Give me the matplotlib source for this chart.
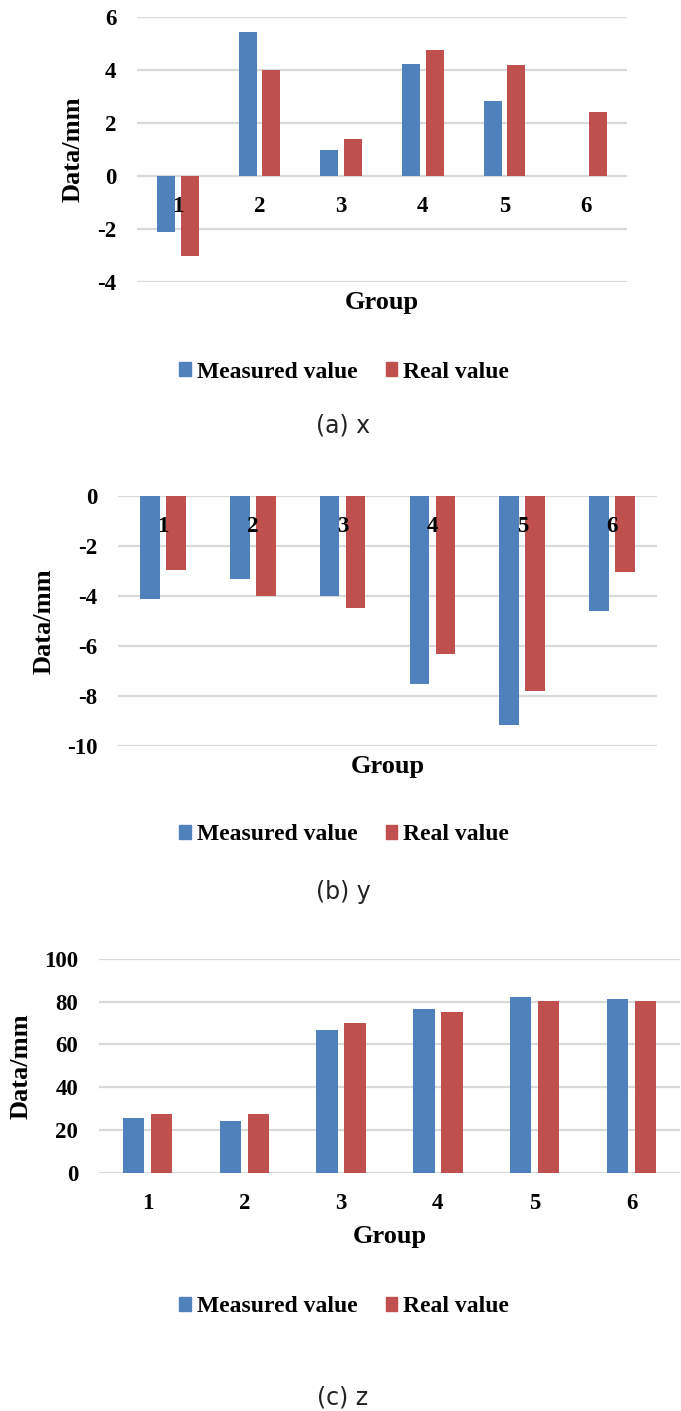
import numpy as np
import matplotlib
matplotlib.use('Agg')
import matplotlib.pyplot as plt
from matplotlib.patches import Patch

# data
groups = ['1', '2', '3', '4', '5', '6']
x_measured = [-2.13, 5.45, 0.99, 4.21, 2.84, 0.0]
x_real = [-3.0, 4.0, 1.38, 4.74, 4.2, 2.43]
y_measured = [-4.13, -3.32, -4.0, -7.55, -9.17, -4.61]
y_real = [-2.99, -4.0, -4.49, -6.33, -7.8, -3.04]
z_measured = [25.4, 24.1, 67.0, 76.5, 82.4, 81.3]
z_real = [27.7, 27.6, 70.1, 75.4, 80.2, 80.2]
series_names = ['Measured value', 'Real value']
captions = ['(a) x', '(b) y', '(c) z']

BLUE = '#4F81BD'
RED = '#C0504D'
GRID = '#D9D9D9'
W, H = 681, 1411

plt.rcParams['font.family'] = ['Liberation Serif', 'DejaVu Serif']
plt.rcParams['font.weight'] = 'bold'
plt.rcParams['axes.unicode_minus'] = False

fig = plt.figure(figsize=(W / 100, H / 100), dpi=100)


def panel(left, right, top, bottom, measured, real, ylim, yticks,
          xlab_zero, group_y, ylabel_x, legend_y, caption_y, caption):
    # axes placed by pixel box
    ax = fig.add_axes([left / W, 1 - bottom / H, (right - left) / W, (bottom - top) / H])
    pos = np.arange(len(groups))
    ax.bar(pos - 0.145, measured, 0.22, color=BLUE, linewidth=0, zorder=3)
    ax.bar(pos + 0.145, real, 0.22, color=RED, linewidth=0, zorder=3)
    ax.set_xlim(-0.5, len(groups) - 0.5)
    ax.set_ylim(*ylim)
    ax.set_yticks(yticks)
    ax.set_xticks(pos)
    ax.set_xticklabels(groups)
    ax.grid(axis='y', color=GRID, linewidth=1.6)
    ax.set_axisbelow(True)
    # group numbers are drawn over the bars
    ax.xaxis.set_zorder(5)
    for s in ax.spines.values():
        s.set_visible(False)
    if xlab_zero:
        ax.spines['bottom'].set_position(('data', 0))
    ax.tick_params(axis='both', length=0, labelsize=16.5)
    ax.tick_params(axis='y', pad=15)
    ax.tick_params(axis='x', pad=14.5)
    ax.set_xlabel('Group', fontsize=19, fontweight='bold')
    ax.xaxis.set_label_coords(0.5, -(group_y - bottom) / (bottom - top))
    ax.xaxis.label.set_va('center')
    ax.set_ylabel('Data/mm', fontsize=19, fontweight='bold')
    ax.yaxis.set_label_coords(-(left - ylabel_x) / (right - left), 0.5)
    ax.yaxis.label.set_va('center')

    handles = [Patch(color=BLUE), Patch(color=RED)]
    fig.legend(handles, series_names, loc='center', bbox_to_anchor=(344 / W, 1 - legend_y / H),
               ncol=2, frameon=False, prop={'size': 17, 'weight': 'bold'},
               handlelength=0.5, handleheight=0.5, handletextpad=0.25, columnspacing=1.2)
    fig.text(343 / W, 1 - caption_y / H, caption, ha='center', va='center',
             fontsize=17, fontweight='normal', family='DejaVu Sans', color='#222222')
    return ax


panel(137, 627, 17, 282, x_measured, x_real, (-4, 6), range(-4, 7, 2),
      True, 303, 73, 372, 425, captions[0])
panel(118, 657, 495.7, 745.7, y_measured, y_real, (-10, 0), range(-10, 1, 2),
      True, 767, 44, 835, 892, captions[1])
panel(99, 680, 959, 1172.7, z_measured, z_real, (0, 100), range(0, 101, 20),
      False, 1237, 21, 1307, 1398, captions[2])

fig.savefig('out.png', dpi=100)
